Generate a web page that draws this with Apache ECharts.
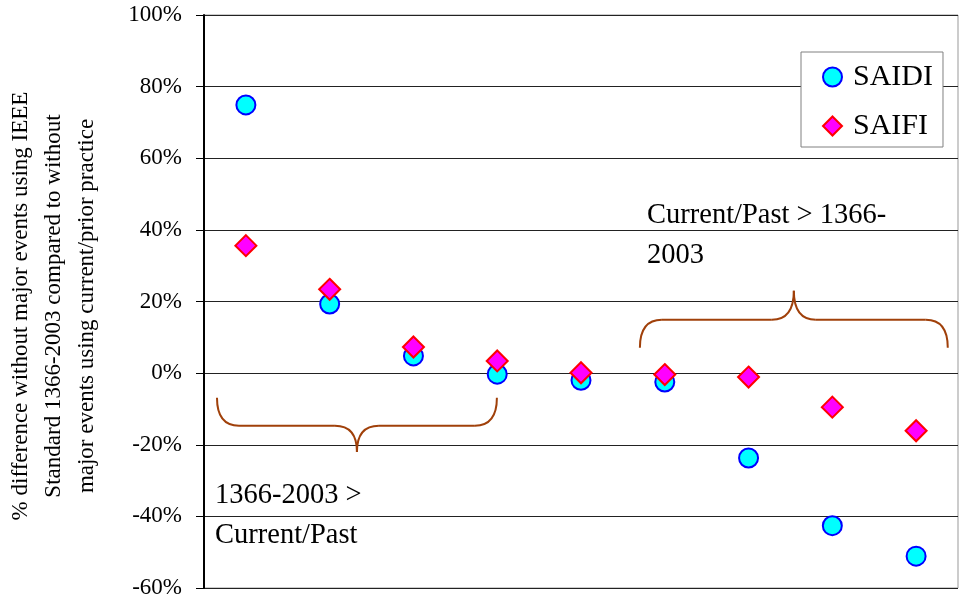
<!DOCTYPE html>
<html>
<head>
<meta charset="utf-8">
<script src="https://cdn.jsdelivr.net/npm/echarts@6/dist/echarts.min.js"></script>
<style>html,body{margin:0;padding:0;background:#fff}#c{width:959px;height:602px}</style>
</head>
<body>
<div id="c"></div>
<script>
const categories = ['1', '2', '3', '4', '5', '6', '7', '8', '9'];
const saidi = [74.9, 19.3, 4.8, -0.3, -2.0, -2.5, -23.7, -42.6, -51.1];
const saifi = [35.6, 23.4, 7.3, 3.4, 0.1, -0.4, -1.1, -9.5, -16.1];
const yMin = -60, yMax = 100, yStep = 20;
// braces: [xLeft, xRight, yEnd, yMid, yTip] in data units (x: 1-based category position)
const braces = [
  [0.655, 3.996, -6.9, -14.7, -22.0],
  [5.703, 9.378, 7.1, 14.9, 23.0]
];
const FONT = '"Liberation Serif", "Times New Roman", serif';

const chart = echarts.init(document.getElementById('c'), null, {renderer: 'canvas'});
chart.setOption({
  animation: false,
  backgroundColor: '#fff',
  grid: {left: 204, right: 1, top: 15, bottom: 14, show: true, borderColor: '#999', borderWidth: 1, backgroundColor: 'transparent'},
  xAxis: [
    {type: 'category', data: categories, boundaryGap: true,
     axisLine: {show: false}, axisTick: {show: false}, axisLabel: {show: false}, splitLine: {show: false}},
    {type: 'value', min: 0.5, max: 9.5, show: false}
  ],
  yAxis: {
    type: 'value', min: yMin, max: yMax, interval: yStep,
    axisLine: {show: true, lineStyle: {color: '#000', width: 2}},
    axisTick: {show: true, inside: false, length: 8, lineStyle: {color: '#000', width: 1}},
    axisLabel: {formatter: '{value}%', fontFamily: FONT, fontSize: 23, color: '#000', margin: 22, padding: [4, 0, 0, 0]},
    splitLine: {show: true, lineStyle: {color: '#222', width: 1}}
  },
  legend: {
    data: ['SAIDI', 'SAIFI'], orient: 'vertical', left: 801, top: 52,
    padding: [10, 10, 6, 21], itemWidth: 19, itemHeight: 19, itemGap: 19,
    borderColor: '#808080', borderWidth: 1, backgroundColor: '#fff',
    textStyle: {fontFamily: FONT, fontSize: 30, lineHeight: 30, color: '#000', padding: [0, 0, 0, 6]}
  },
  series: [
    {name: 'SAIDI', type: 'scatter', data: saidi, symbol: 'circle', symbolSize: 19,
     itemStyle: {color: '#00FFFF', borderColor: '#0000FF', borderWidth: 2, opacity: 1}, z: 3},
    {name: 'SAIFI', type: 'scatter', data: saifi, symbol: 'diamond', symbolSize: 21,
     itemStyle: {color: '#FF00FF', borderColor: '#FF0000', borderWidth: 2, opacity: 1}, z: 4},
    {name: 'braces', type: 'custom', xAxisIndex: 1, data: braces, clip: false, silent: true, z: 2,
     renderItem: function (params, api) {
       const x1 = api.value(0), x2 = api.value(1), yE = api.value(2), yM = api.value(3), yT = api.value(4);
       const xm = (x1 + x2) / 2;
       const E1 = api.coord([x1, yE]), E2 = api.coord([x2, yE]);
       const M = api.coord([xm, yM]), T = api.coord([xm, yT]);
       const r = 22;
       const st = {stroke: '#A0400A', lineWidth: 2, fill: null};
       return {type: 'group', children: [
         {type: 'bezierCurve', shape: {x1: E1[0], y1: E1[1], x2: E1[0] + r, y2: M[1], cpx1: E1[0], cpy1: M[1]}, style: st},
         {type: 'line', shape: {x1: E1[0] + r, y1: M[1], x2: T[0] - r, y2: M[1]}, style: st},
         {type: 'bezierCurve', shape: {x1: T[0] - r, y1: M[1], x2: T[0], y2: T[1], cpx1: T[0], cpy1: M[1]}, style: st},
         {type: 'bezierCurve', shape: {x1: T[0], y1: T[1], x2: T[0] + r, y2: M[1], cpx1: T[0], cpy1: M[1]}, style: st},
         {type: 'line', shape: {x1: T[0] + r, y1: M[1], x2: E2[0] - r, y2: M[1]}, style: st},
         {type: 'bezierCurve', shape: {x1: E2[0] - r, y1: M[1], x2: E2[0], y2: E2[1], cpx1: E2[0], cpy1: M[1]}, style: st}
       ]};
     }}
  ],
  graphic: [
    {type: 'text', x: 54, y: 306, rotation: Math.PI / 2, z: 10,
     style: {text: '% difference without major events using IEEE\nStandard 1366-2003 compared to without\nmajor events using current/prior practice',
             font: '23px ' + FONT, fill: '#000', align: 'center', verticalAlign: 'middle', lineHeight: 33}},
    {type: 'text', x: 215, y: 476, z: 10,
     style: {text: '1366-2003 >\nCurrent/Past', font: '28.5px ' + FONT, fill: '#000', align: 'left', verticalAlign: 'top', lineHeight: 40}},
    {type: 'text', x: 647, y: 196, z: 10,
     style: {text: 'Current/Past > 1366-\n2003', font: '28.5px ' + FONT, fill: '#000', align: 'left', verticalAlign: 'top', lineHeight: 40}}
  ]
});
</script>
</body>
</html>
